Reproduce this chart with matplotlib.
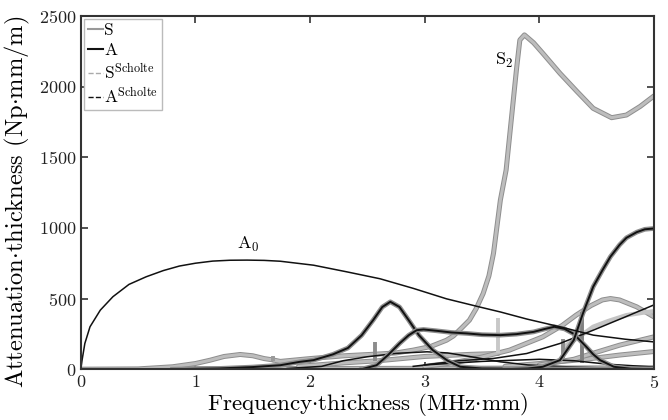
import numpy as np
import matplotlib
matplotlib.use('Agg')
from matplotlib import pyplot as plt
import matplotlib.patheffects as pe

plt.rcParams['font.family'] = ['cmr10', 'DejaVu Serif']
plt.rcParams['mathtext.fontset'] = 'cm'
plt.rcParams['axes.formatter.use_mathtext'] = True

# ---- A modes (black) ----
a0_x = [0.0, 0.01, 0.035, 0.08, 0.17, 0.28, 0.42, 0.57, 0.72, 0.86, 1.0, 1.15, 1.3, 1.45, 1.6,
        1.74, 2.03, 2.32, 2.61, 2.9, 3.19, 3.48, 3.66, 3.89, 4.18, 4.47, 4.75, 5.0]
a0_y = [0, 60, 182, 300, 418, 513, 600, 654, 698, 730, 750, 765, 771, 772, 770,
        764, 736, 689, 640, 572, 498, 440, 405, 355, 300, 241, 212, 193]

a1_x = [0.8, 1.2, 1.5, 1.74, 1.91, 2.03, 2.2, 2.33, 2.45, 2.55, 2.63, 2.7, 2.78, 2.86, 2.95,
        3.07, 3.2, 3.31, 3.5, 4.0, 5.0]
a1_y = [0, 5, 15, 28, 52, 64, 105, 150, 240, 347, 440, 477, 440, 347, 240,
        135, 60, 17, 5, 2, 0]

a2_x = [2.45, 2.58, 2.68, 2.78, 2.86, 2.93, 2.99, 3.1, 3.23, 3.37, 3.5, 3.66, 3.8, 3.95, 4.05,
        4.13, 4.22, 4.3, 4.41, 4.47, 4.53, 4.65, 4.8, 5.0]
a2_y = [0, 28, 100, 182, 240, 276, 281, 272, 260, 253, 244, 241, 248, 264, 285,
        300, 285, 250, 158, 105, 64, 17, 3, 0]

a3_x = [3.7, 3.9, 4.03, 4.18, 4.3, 4.38, 4.47, 4.55, 4.62, 4.7, 4.76, 4.85, 4.92, 5.0]
a3_y = [0, 5, 17, 64, 205, 394, 584, 700, 796, 880, 930, 970, 990, 996]

a4_x = [2.9, 3.1, 3.3, 3.6, 3.89, 4.18, 4.47, 4.75, 5.0]
a4_y = [20, 40, 60, 76, 111, 182, 276, 370, 455]

a5_x = [1.8, 2.1, 2.29, 2.5, 2.75, 3.02, 3.2, 3.39, 3.66, 3.9, 4.2, 4.5, 5.0]
a5_y = [5, 20, 60, 88, 112, 123, 115, 90, 52, 30, 18, 10, 5]

a6_x = [3.0, 3.5, 4.0, 4.3, 4.6, 5.0]
a6_y = [30, 55, 70, 60, 35, 15]

# ---- S modes (gray) ----
s0_x = [0.0, 0.5, 0.8, 1.0, 1.13, 1.25, 1.39, 1.5, 1.6, 1.68]
s0_y = [0, 2, 17, 40, 64, 90, 104, 95, 75, 65]

s2_x = [1.68, 1.74, 2.0, 2.3, 2.61, 2.75, 2.9, 3.05, 3.19, 3.25, 3.32, 3.39, 3.45, 3.51, 3.56,
        3.6, 3.66, 3.71, 3.77, 3.8, 3.83, 3.87, 3.95, 4.03, 4.18, 4.33, 4.47, 4.63, 4.76, 4.88, 5.0]
s2_y = [65, 55, 75, 95, 108, 115, 135, 160, 205, 235, 290, 347, 430, 536, 660,
        820, 1197, 1409, 1882, 2118, 2330, 2366, 2310, 2236, 2094, 1964, 1846, 1780, 1799, 1860, 1934]

s3_x = [3.0, 3.2, 3.45, 3.74, 4.03, 4.2, 4.32, 4.45, 4.55, 4.62, 4.7, 4.85, 5.0]
s3_y = [20, 40, 76, 135, 229, 310, 382, 450, 490, 500, 490, 441, 370]

s4_x = [4.2, 4.35, 4.47, 4.6, 4.76, 4.9, 5.0]
s4_y = [150, 230, 300, 340, 382, 400, 410]

s5_x = [4.0, 4.3, 4.47, 4.7, 5.0]
s5_y = [30, 70, 113, 170, 229]

s6_x = [3.7, 4.0, 4.4, 4.7, 5.0]
s6_y = [20, 40, 70, 100, 125]

s7_x = [1.9, 2.3, 2.6, 3.0, 3.4, 3.64]
s7_y = [20, 45, 60, 90, 105, 111]

s8_x = [0.8, 2.0, 3.0, 4.0, 5.0]
s8_y = [3, 5, 6, 8, 10]

# vertical jumps in the S branches
spike_x = [1.68, 2.57, 3.64, 4.21, 4.37]
spike_lo = [60, 55, 111, 76, 42]
spike_hi = [90, 193, 359, 217, 406]
spike_col = ['#9a9a9a', '#8c8c8c', '#c8c8c8', '#8c8c8c', '#808080']

# ---- Scholte ----
sch_x = [0.0, 5.0]
s_sch_y = [4, 4]
a_sch_y = [1, 1]

fig = plt.figure(figsize=(6.68, 4.2), dpi=100)
ax = fig.add_axes([0.121, 0.121, 0.858, 0.841])

s_fx = [pe.Stroke(linewidth=3.6, foreground='#8e8e8e'), pe.Normal()]
a_fx = [pe.Stroke(linewidth=3.4, foreground='#8e8e8e'), pe.Normal()]

for xs, ys in [(s8_x, s8_y), (s0_x, s0_y), (s7_x, s7_y), (s6_x, s6_y), (s5_x, s5_y),
               (s3_x, s3_y), (s2_x, s2_y)]:
    ax.plot(xs, ys, color='#bdbdbd', lw=2.2, path_effects=s_fx, solid_capstyle='round')
ax.plot(s4_x, s4_y, color='#c4c4c4', lw=3.2, solid_capstyle='butt')

for x, lo, hi, c in zip(spike_x, spike_lo, spike_hi, spike_col):
    ax.plot([x, x], [lo, hi], color=c, lw=2.8, solid_capstyle='butt')

for xs, ys in [(a6_x, a6_y), (a5_x, a5_y), (a4_x, a4_y)]:
    ax.plot(xs, ys, color='#111111', lw=1.1)
for xs, ys in [(a1_x, a1_y), (a2_x, a2_y), (a3_x, a3_y)]:
    ax.plot(xs, ys, color='#111111', lw=1.4, path_effects=a_fx)
ax.plot(a0_x, a0_y, color='#111111', lw=1.1)

ax.plot(sch_x, s_sch_y, color='#aaaaaa', lw=1.0, ls='--')
ax.plot(sch_x, a_sch_y, color='#111111', lw=1.0, ls='--')

ax.text(1.46, 880, r'A$_0$', fontsize=13, ha='center', va='center')
ax.text(3.69, 2185, r'S$_2$', fontsize=13, ha='center', va='center')

# legend proxies
h_s, = ax.plot([], [], color='#999999', lw=1.5)
h_a, = ax.plot([], [], color='#111111', lw=1.5)
h_ss, = ax.plot([], [], color='#aaaaaa', lw=1.0, ls='--')
h_as, = ax.plot([], [], color='#111111', lw=1.0, ls='--')
leg = ax.legend([h_s, h_a, h_ss, h_as],
                ['S', 'A', r'S$^{\mathrm{Scholte}}$', r'A$^{\mathrm{Scholte}}$'],
                loc='upper left', fontsize=12.5, handlelength=0.85, handletextpad=0.1,
                borderaxespad=0.2, borderpad=0.2, labelspacing=0.25, fancybox=False,
                framealpha=1)
leg.get_frame().set_edgecolor('#bbbbbb')
leg.get_frame().set_linewidth(1.0)

ax.set_xlim(0, 5)
ax.set_ylim(0, 2500)
ax.set_xticks([0, 1, 2, 3, 4, 5])
ax.set_yticks([0, 500, 1000, 1500, 2000, 2500])
ax.tick_params(direction='in', top=True, right=True, labelsize=13, length=5, width=1.2,
               colors='#333333', labelcolor='#222222')
for sp in ax.spines.values():
    sp.set_color('#333333')
    sp.set_linewidth(1.5)

ax.set_xlabel(r'Frequency$\cdot$thickness (MHz$\cdot$mm)', fontsize=16.6, labelpad=0)
ax.set_ylabel(r'Attenuation$\cdot$thickness (Np$\cdot$mm/m)', fontsize=17.6)
ax.yaxis.set_label_coords(-0.086, 0.473)

fig.savefig('out.png', dpi=100)
